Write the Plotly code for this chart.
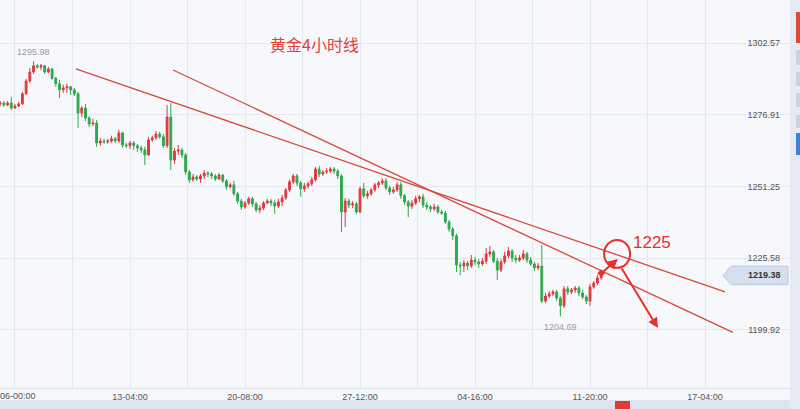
import plotly.graph_objects as go

# ---------------- data (4-hour gold candles) ----------------
opens = [
    1280.8, 1281.1, 1280.4, 1281.1, 1279.3, 1280.0, 1280.8, 1284.4, 1289.0, 1292.2,
    1294.4, 1294.0, 1294.4, 1292.2, 1293.3, 1290.0, 1288.0, 1285.8, 1286.5, 1286.9,
    1285.8, 1284.4, 1277.5, 1279.3, 1275.7, 1273.6, 1273.9, 1266.8, 1267.5, 1267.2,
    1267.5, 1268.3, 1267.5, 1270.4, 1266.1, 1265.8, 1266.8, 1265.8, 1265.0, 1264.3,
    1262.5, 1267.9, 1268.6, 1270.0, 1269.0, 1265.8, 1276.1, 1260.7, 1263.9, 1264.3,
    1262.5, 1256.4, 1253.6, 1254.6, 1253.9, 1255.0, 1256.0, 1255.7, 1255.0, 1253.9,
    1255.3, 1253.2, 1251.1, 1251.8, 1248.6, 1246.0, 1243.9, 1245.3, 1246.8, 1245.0,
    1242.8, 1243.5, 1245.3, 1246.0, 1245.3, 1244.2, 1245.7, 1247.1, 1250.0, 1252.9,
    1255.0, 1252.5, 1250.4, 1251.4, 1252.2, 1253.6, 1257.5, 1255.7, 1256.4, 1256.7,
    1257.5, 1256.7, 1255.0, 1242.1, 1246.0, 1244.6, 1245.0, 1242.1, 1250.4, 1247.9,
    1248.6, 1250.0, 1251.8, 1252.5, 1253.2, 1250.7, 1249.3, 1250.0, 1251.8, 1247.9,
    1245.7, 1244.2, 1245.3, 1246.8, 1247.5, 1244.6, 1243.9, 1243.2, 1243.9, 1242.1,
    1241.7, 1238.5, 1236.0, 1233.6, 1223.1, 1222.8, 1223.8, 1222.8, 1224.9, 1224.2,
    1223.5, 1224.5, 1227.1, 1227.8, 1224.5, 1221.3, 1224.2, 1226.4, 1228.1, 1225.6,
    1224.9, 1225.6, 1227.1, 1224.9, 1223.5, 1222.1, 1222.8, 1210.2, 1212.0, 1212.8,
    1213.5, 1211.3, 1208.5, 1214.6, 1213.5, 1214.2, 1214.9, 1213.1, 1211.7, 1210.2,
    1215.3, 1216.7, 1218.5,
]
closes = [
    1281.1, 1280.4, 1281.1, 1279.3, 1280.0, 1280.8, 1284.4, 1289.0, 1292.2, 1294.4,
    1294.0, 1294.4, 1292.2, 1293.3, 1290.0, 1288.0, 1285.8, 1286.5, 1286.9, 1285.8,
    1284.4, 1277.5, 1279.3, 1275.7, 1273.6, 1273.9, 1266.8, 1267.5, 1267.2, 1267.5,
    1268.3, 1267.5, 1270.4, 1266.1, 1265.8, 1266.8, 1265.8, 1265.0, 1264.3, 1262.5,
    1267.9, 1268.6, 1270.0, 1269.0, 1265.8, 1276.1, 1260.7, 1263.9, 1264.3, 1262.5,
    1256.4, 1253.6, 1254.6, 1253.9, 1255.0, 1256.0, 1255.7, 1255.0, 1253.9, 1255.3,
    1253.2, 1251.1, 1251.8, 1248.6, 1246.0, 1243.9, 1245.3, 1246.8, 1245.0, 1242.8,
    1243.5, 1245.3, 1246.0, 1245.3, 1244.2, 1245.7, 1247.1, 1250.0, 1252.9, 1255.0,
    1252.5, 1250.4, 1251.4, 1252.2, 1253.6, 1257.5, 1255.7, 1256.4, 1256.7, 1257.5,
    1256.7, 1255.0, 1242.1, 1246.0, 1244.6, 1245.0, 1242.1, 1250.4, 1247.9, 1248.6,
    1250.0, 1251.8, 1252.5, 1253.2, 1250.7, 1249.3, 1250.0, 1251.8, 1247.9, 1245.7,
    1244.2, 1245.3, 1246.8, 1247.5, 1244.6, 1243.9, 1243.2, 1243.9, 1242.1, 1241.7,
    1238.5, 1236.0, 1233.6, 1223.1, 1222.8, 1223.8, 1222.8, 1224.9, 1224.2, 1223.5,
    1224.5, 1227.1, 1227.8, 1224.5, 1221.3, 1224.2, 1226.4, 1228.1, 1225.6, 1224.9,
    1225.6, 1227.1, 1224.9, 1223.5, 1222.1, 1222.8, 1210.2, 1212.0, 1212.8, 1213.5,
    1211.3, 1208.5, 1214.6, 1213.5, 1214.2, 1214.9, 1213.1, 1211.7, 1210.2, 1215.3,
    1216.7, 1218.5, 1219.38,
]
highs = [
    1281.8, 1281.8, 1281.8, 1283.3, 1280.8, 1281.5, 1285.1, 1289.7, 1293.6, 1295.98,
    1295.1, 1295.1, 1294.7, 1294.0, 1293.6, 1290.4, 1289.4, 1287.6, 1288.0, 1287.2,
    1286.5, 1285.1, 1280.0, 1280.8, 1276.4, 1275.4, 1275.0, 1268.6, 1268.3, 1268.3,
    1269.4, 1269.0, 1271.5, 1270.8, 1266.8, 1267.5, 1267.5, 1266.5, 1265.8, 1265.4,
    1269.0, 1269.4, 1271.1, 1270.8, 1270.0, 1280.4, 1281.1, 1265.0, 1266.1, 1265.0,
    1263.2, 1257.1, 1255.7, 1255.3, 1255.7, 1257.1, 1256.7, 1256.4, 1255.7, 1256.0,
    1255.7, 1253.9, 1252.5, 1253.2, 1249.3, 1246.8, 1246.0, 1247.5, 1247.5, 1245.7,
    1244.6, 1246.0, 1246.8, 1246.8, 1246.4, 1246.8, 1248.2, 1250.7, 1253.6, 1255.7,
    1255.7, 1253.2, 1252.5, 1252.9, 1254.6, 1258.2, 1258.6, 1257.1, 1257.9, 1258.2,
    1258.2, 1257.5, 1255.7, 1247.1, 1246.8, 1246.0, 1245.7, 1251.1, 1252.5, 1249.6,
    1250.7, 1252.5, 1253.2, 1254.2, 1254.2, 1251.4, 1251.1, 1252.9, 1252.9, 1248.6,
    1246.4, 1246.4, 1247.9, 1248.2, 1248.6, 1245.7, 1244.6, 1245.0, 1244.6, 1242.8,
    1242.5, 1239.2, 1236.7, 1234.3, 1224.2, 1224.9, 1224.5, 1226.7, 1226.0, 1225.3,
    1225.6, 1229.2, 1229.9, 1228.5, 1225.6, 1225.3, 1227.8, 1229.6, 1228.9, 1226.7,
    1226.7, 1228.5, 1227.8, 1226.0, 1224.2, 1223.8, 1230.3, 1213.1, 1213.8, 1214.2,
    1214.2, 1212.0, 1215.6, 1215.6, 1214.9, 1215.6, 1215.6, 1214.2, 1212.4, 1216.4,
    1217.4, 1219.6, 1220.6,
]
lows = [
    1280.0, 1279.7, 1280.0, 1278.6, 1279.0, 1279.7, 1280.4, 1284.0, 1288.3, 1291.5,
    1293.3, 1292.9, 1291.5, 1291.8, 1289.4, 1286.9, 1282.9, 1284.7, 1284.7, 1284.0,
    1283.6, 1272.2, 1276.1, 1274.6, 1272.5, 1272.9, 1265.4, 1265.8, 1266.5, 1266.5,
    1266.8, 1266.8, 1266.8, 1265.0, 1265.0, 1264.7, 1264.3, 1263.6, 1263.2, 1258.9,
    1262.2, 1267.2, 1267.9, 1268.3, 1265.0, 1265.0, 1257.1, 1259.3, 1262.5, 1261.4,
    1255.3, 1252.5, 1252.9, 1253.2, 1252.5, 1253.9, 1254.6, 1253.9, 1253.2, 1253.6,
    1252.5, 1250.0, 1250.4, 1247.9, 1245.0, 1242.8, 1243.2, 1244.6, 1243.9, 1242.1,
    1241.7, 1242.8, 1245.0, 1244.2, 1241.4, 1243.5, 1244.2, 1246.4, 1249.3, 1252.2,
    1251.4, 1247.5, 1249.3, 1250.4, 1251.4, 1252.9, 1254.6, 1255.0, 1255.7, 1256.0,
    1255.7, 1253.9, 1235.0, 1236.7, 1243.5, 1243.5, 1241.4, 1241.7, 1247.1, 1246.8,
    1247.9, 1249.3, 1250.7, 1251.8, 1250.0, 1248.2, 1248.6, 1249.3, 1246.8, 1244.6,
    1240.3, 1243.2, 1244.6, 1245.7, 1243.5, 1242.8, 1242.1, 1242.5, 1241.4, 1241.0,
    1237.8, 1235.0, 1232.1, 1220.6, 1219.5, 1220.6, 1221.3, 1222.1, 1223.1, 1222.1,
    1222.8, 1223.5, 1226.0, 1223.8, 1217.8, 1220.6, 1223.5, 1225.6, 1224.2, 1223.8,
    1224.2, 1224.9, 1223.8, 1222.8, 1221.0, 1221.3, 1209.5, 1209.5, 1211.3, 1212.0,
    1210.2, 1204.69, 1207.8, 1212.4, 1212.8, 1213.1, 1212.0, 1210.9, 1209.2, 1208.5,
    1214.6, 1215.9, 1217.8,
]
bars = list(range(len(closes)))

tick_labels = ["06-00:00", "13-04:00", "20-08:00", "27-12:00", "04-16:00", "11-20:00", "17-04:00"]
tick_bars = [4, 35, 66, 97, 128, 159, 190]
price_ticks = [1199.92, 1225.58, 1251.25, 1276.91, 1302.57]
last_price = 1219.38
peak_bar, peak_price = 9, 1295.98
trough_bar, trough_price = 151, 1204.69
target_text = "1225"
title_text = "黄金4小时线"

# trend lines (bar, price) endpoints
trend1_x, trend1_y = [20.4, 195.4], [1293.3, 1213.5]
trend2_x, trend2_y = [46.6, 197.5], [1292.9, 1199.0]

RED = "#e8302a"
LINE_RED = "#d9483b"
GRID = "#e3e7ee"
TXT = "#555555"

fig = go.Figure()
fig.add_trace(go.Candlestick(
    x=bars, open=opens, high=highs, low=lows, close=closes,
    increasing=dict(line=dict(color="#e0393e", width=1), fillcolor="#e0393e"),
    decreasing=dict(line=dict(color="#2fa84a", width=1), fillcolor="#2fa84a"),
    whiskerwidth=0, showlegend=False, hoverinfo="skip",
))
for tx, ty in [(trend1_x, trend1_y), (trend2_x, trend2_y)]:
    fig.add_trace(go.Scatter(x=tx, y=ty, mode="lines",
                             line=dict(color=LINE_RED, width=1.3),
                             showlegend=False, hoverinfo="skip"))
# marker at the last candle where the arrow starts
fig.add_trace(go.Scatter(x=[bars[-1]], y=[highs[-1] - 0.4], mode="markers",
                         marker=dict(color=RED, size=6, symbol="diamond"),
                         showlegend=False, hoverinfo="skip"))

# grid ticks every half label interval (first label drawn separately)
step = (tick_bars[1] - tick_bars[0]) / 2
grid_vals, grid_text = [], []
for k in range(14):
    grid_vals.append(tick_bars[0] + step * k)
    show = k % 2 == 0 and 0 < k // 2 < len(tick_labels)
    grid_text.append(tick_labels[k // 2] if show else "")

PLOT_H = 388.0
PLOT_W = 790.0

def py(pix):
    return (PLOT_H - pix) / PLOT_H

def px(pix):
    return pix / PLOT_W

shapes = [
    # target circle
    dict(type="circle", xref="x", yref="y", x0=162.8, x1=169.8, y0=1222.1, y1=1232.1,
         line=dict(color=RED, width=2)),
    # last price tag
    dict(type="path", xref="paper", yref="y",
         path=f"M {px(723)},{last_price} L {px(731)},{last_price + 3.3} L {px(788)},{last_price + 3.3} "
              f"L {px(788)},{last_price - 3.3} L {px(731)},{last_price - 3.3} Z",
         fillcolor="#d5dff0", line=dict(color="#b9c8e0", width=1)),
    # bottom band
    dict(type="rect", xref="paper", yref="paper", x0=0, x1=px(800), y0=py(409), y1=py(400),
         fillcolor="#dde3ef", line=dict(width=0), layer="below"),
    dict(type="rect", xref="paper", yref="paper", x0=px(615), x1=px(630), y0=py(409), y1=py(401),
         fillcolor="#e03b30", line=dict(width=0)),
    # right side panel
    dict(type="rect", xref="paper", yref="paper", x0=1.0, x1=px(800), y0=py(409), y1=1,
         fillcolor="#e6ebf3", line=dict(width=0)),
    dict(type="rect", xref="paper", yref="paper", x0=px(796), x1=px(800), y0=py(43), y1=py(12),
         fillcolor="#e04a35", line=dict(width=0)),
    dict(type="rect", xref="paper", yref="paper", x0=px(796), x1=px(800), y0=py(155), y1=py(133),
         fillcolor="#3f80d8", line=dict(width=0)),
]
for a, b in [(50, 65), (72, 86), (93, 107), (115, 128)]:
    shapes.append(dict(type="rect", xref="paper", yref="paper", x0=px(796), x1=px(800),
                       y0=py(b), y1=py(a), fillcolor="#c9d2df", line=dict(width=0)))

annotations = [
    dict(text=title_text, xref="paper", yref="paper", x=px(314), y=py(30), showarrow=False,
         font=dict(family="Noto Sans CJK SC", size=16, color="#e0403a")),
    dict(text=target_text, xref="x", yref="y", x=175.7, y=1231.0, showarrow=False,
         font=dict(family="Liberation Sans", size=17, color=RED)),
    dict(text=f"{peak_price:.2f}", xref="x", yref="y", x=peak_bar, y=peak_price,
         yanchor="bottom", yshift=2, showarrow=False,
         font=dict(family="Liberation Sans", size=9, color="#9a9a9a")),
    dict(text=f"{trough_price:.2f}", xref="x", yref="y", x=trough_bar, y=trough_price,
         yanchor="top", yshift=-3, showarrow=False,
         font=dict(family="Liberation Sans", size=9, color="#9a9a9a")),
    dict(text=f"<b>{last_price:.2f}</b>", xref="paper", yref="y", x=px(783), y=last_price,
         xanchor="right", showarrow=False,
         font=dict(family="Liberation Sans", size=9, color="#333")),
    # first time label, kept just inside the left edge
    dict(text=tick_labels[0], xref="paper", yref="paper", x=0, y=0,
         xanchor="left", yanchor="top", yshift=-1, xshift=-2, showarrow=False,
         font=dict(family="Liberation Sans", size=9, color=TXT)),
    # arrows
    dict(text="", xref="x", yref="y", axref="x", ayref="y",
         x=166.5, y=1225.3, ax=162.2, ay=1220.3, showarrow=True,
         arrowhead=2, arrowsize=1, arrowwidth=2, arrowcolor=RED),
    dict(text="", xref="x", yref="y", axref="x", ayref="y",
         x=177.3, y=1200.6, ax=167.3, ay=1222.4, showarrow=True,
         arrowhead=2, arrowsize=1, arrowwidth=2, arrowcolor=RED),
]

fig.update_layout(
    width=800, height=409,
    margin=dict(l=0, r=10, t=0, b=21, autoexpand=False),
    paper_bgcolor="#f5f7fa", plot_bgcolor="#f6f8fb",
    font=dict(family="Liberation Sans", size=9, color=TXT),
    shapes=shapes, annotations=annotations,
    xaxis=dict(range=[-0.04, 212.9], tickvals=grid_vals, ticktext=grid_text,
               showgrid=True, gridcolor=GRID, gridwidth=1, zeroline=False,
               rangeslider=dict(visible=False), ticks="", showline=True, automargin=False,
               linecolor="#dde2ea", tickfont=dict(size=9, color=TXT)),
    yaxis=dict(range=[1179.1, 1317.96], side="right", tickvals=price_ticks,
               ticktext=[f"{v:.2f}" for v in price_ticks], ticklabelposition="inside",
               showgrid=True, gridcolor=GRID, gridwidth=1, zeroline=False, ticks="",
               automargin=False,
               ticklabelstandoff=7, tickfont=dict(size=9, color=TXT)),
)

fig.write_html("out.html", config={"displayModeBar": False},
               post_script="document.body.style.margin='0';document.body.style.overflow='hidden';")
